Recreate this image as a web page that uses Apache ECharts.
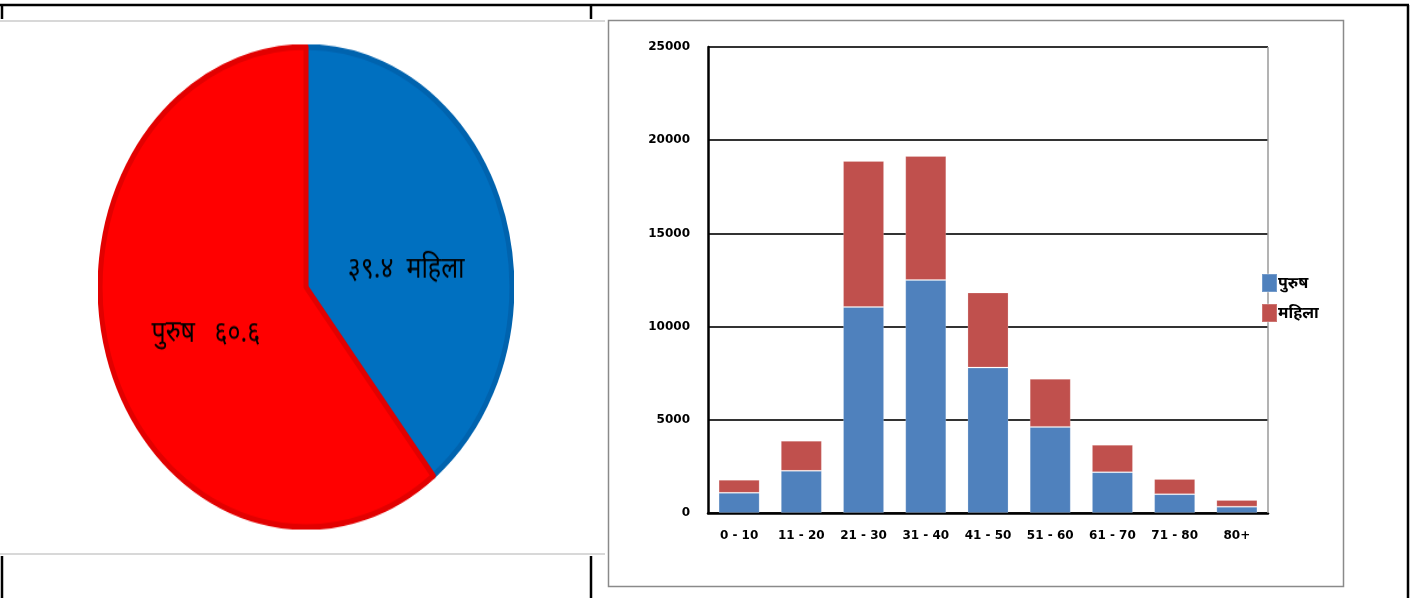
<!DOCTYPE html>
<html>
<head>
<meta charset="utf-8">
<script src="https://cdn.jsdelivr.net/npm/echarts@6/dist/echarts.min.js"></script>
<style>
  html, body { margin: 0; padding: 0; background: #fff; }
  #main { position: absolute; left: 0; top: 0; width: 1412px; height: 598px; }
  #pie { position: absolute; left: 98px; top: 79px; width: 416px; height: 416px; transform: scaleY(1.166); transform-origin: 50% 50%; }
</style>
</head>
<body>
<div id="main"></div>
<div id="pie"></div>
<script>
// ---- data ----
const pieNames = ['महिला', 'पुरुष'];
const pieValues = [39.4, 60.6];
const pieValueText = ['३९.४', '६०.६'];

const ageGroups = ['0 - 10', '11 - 20', '21 - 30', '31 - 40', '41 - 50', '51 - 60', '61 - 70', '71 - 80', '80+'];
const seriesNames = ['पुरुष', 'महिला'];
const maleValues = [1080, 2260, 11050, 12500, 7800, 4620, 2190, 1010, 340];
const femaleValues = [700, 1620, 7840, 6650, 4030, 2580, 1470, 820, 360];
const yTicks = [0, 5000, 10000, 15000, 20000, 25000];

const FONT = '"DejaVu Sans", "Noto Sans", sans-serif';

// ---- bar chart + page frame ----
const main = echarts.init(document.getElementById('main'), null, { renderer: 'canvas' });
const blk = { stroke: '#000', lineWidth: 2.5 };
main.setOption({
  animation: false,
  backgroundColor: '#fff',
  grid: { left: 708, right: 144, top: 47, bottom: 85 },
  legend: {
    orient: 'vertical',
    left: 1256, top: 268,
    itemWidth: 15, itemHeight: 18, itemGap: 10,
    icon: 'rect',
    textStyle: { fontFamily: '"Noto Sans", sans-serif', fontWeight: 'bold', fontSize: 16, color: '#000', padding: [0, 0, 0, -4] },
    data: seriesNames
  },
  xAxis: {
    type: 'category',
    data: ageGroups,
    axisLine: { lineStyle: { color: '#000', width: 2.5 } },
    axisTick: { show: false },
    axisLabel: { color: '#000', fontWeight: 'bold', fontSize: 12, fontFamily: FONT, margin: 17 }
  },
  yAxis: {
    type: 'value',
    min: 0, max: 25000, interval: 5000,
    axisLine: { show: true, lineStyle: { color: '#000', width: 2.5 } },
    axisTick: { show: false },
    splitLine: { lineStyle: { color: '#333', width: 2 } },
    axisLabel: {
      color: '#000', fontWeight: 'bold', fontSize: 12, fontFamily: FONT, margin: 18,
      formatter: v => yTicks.includes(v) ? String(v) : ''
    }
  },
  series: [
    { name: seriesNames[0], type: 'bar', stack: 'all', data: maleValues, barWidth: '66%',
      itemStyle: { color: '#4F81BD', borderColor: 'rgba(255,255,255,0.2)', borderWidth: 1 } },
    { name: seriesNames[1], type: 'bar', stack: 'all', data: femaleValues, barWidth: '66%',
      itemStyle: { color: '#C0504D', borderColor: 'rgba(255,255,255,0.2)', borderWidth: 1 } }
  ],
  graphic: [
    // table borders
    { type: 'line', shape: { x1: 0, y1: 5, x2: 1409, y2: 5 }, style: blk, z: 100 },
    { type: 'line', shape: { x1: 2, y1: 5, x2: 2, y2: 19 }, style: blk, z: 100 },
    { type: 'line', shape: { x1: 591, y1: 5, x2: 591, y2: 19 }, style: blk, z: 100 },
    { type: 'line', shape: { x1: 2, y1: 556, x2: 2, y2: 598 }, style: blk, z: 100 },
    { type: 'line', shape: { x1: 591, y1: 556, x2: 591, y2: 598 }, style: blk, z: 100 },
    { type: 'line', shape: { x1: 1408, y1: 5, x2: 1408, y2: 598 }, style: blk, z: 100 },
    // pie picture frame
    { type: 'line', shape: { x1: 0, y1: 21, x2: 605, y2: 21 }, style: { stroke: '#d8d8d8', lineWidth: 2 }, z: 100 },
    { type: 'line', shape: { x1: 0, y1: 554, x2: 605, y2: 554 }, style: { stroke: '#d8d8d8', lineWidth: 2 }, z: 100 },
    // bar picture frame
    { type: 'rect', shape: { x: 608.5, y: 20.5, width: 735, height: 566 }, style: { fill: 'none', stroke: '#8a8a8a', lineWidth: 1.5 }, z: 100 },
    // plot right edge
    { type: 'line', shape: { x1: 1268, y1: 47, x2: 1268, y2: 513 }, style: { stroke: '#9a9a9a', lineWidth: 1.5 }, z: 1 }
  ]
});

// ---- pie chart (elliptical via CSS scale) ----
const pie = echarts.init(document.getElementById('pie'), null, { renderer: 'canvas' });
const txtStyle = { color: '#000', fontSize: 25, fontFamily: '"Noto Sans", sans-serif', lineHeight: 30 };
pie.setOption({
  animation: false,
  series: [{
    type: 'pie',
    center: ['50%', '50%'],
    radius: ['0%', '99%'],
    startAngle: 90,
    clockwise: true,
    data: [
      { name: pieNames[0], value: pieValues[0],
        itemStyle: { color: '#0070C0', borderColor: '#0063AE', borderWidth: 5 },
        label: { formatter: '{s|}\n{t|' + pieValueText[0] + '  ' + pieNames[0] + '}',
                 rich: { s: { lineHeight: 40, fontSize: 1 }, t: txtStyle } } },
      { name: pieNames[1], value: pieValues[1],
        itemStyle: { color: '#FF0000', borderColor: '#E20000', borderWidth: 5 },
        label: { formatter: '{s|}\n{t|' + pieNames[1] + '   ' + pieValueText[1] + '}',
                 rich: { s: { lineHeight: 10, fontSize: 1 }, t: txtStyle } } }
    ],
    label: {
      show: true, position: 'inside', color: '#000', fontSize: 25,
      fontFamily: '"Noto Sans", sans-serif'
    },
    labelLine: { show: false },
    emphasis: { disabled: true }
  }]
});
</script>
</body>
</html>
